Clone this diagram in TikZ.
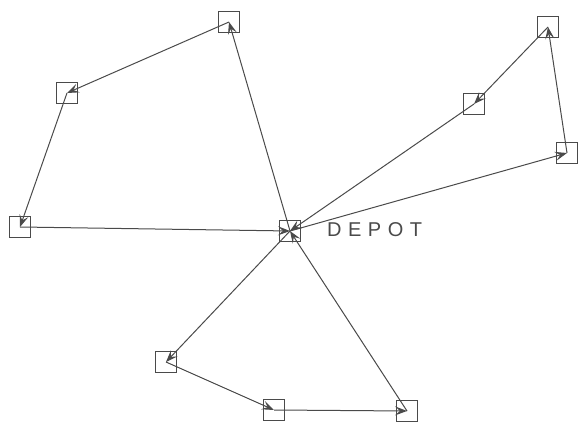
\documentclass[tikz,border=0pt]{standalone}
\usepackage{fontspec}
\setmainfont{Liberation Sans}
\usetikzlibrary{arrows.meta}
\definecolor{ink}{HTML}{4A4A4A}
\tikzset{
  stop/.style={draw=ink, line width=1pt, minimum size=21pt, inner sep=0pt},
  leg/.style={draw=ink, line width=1pt, -{Stealth[length=12pt,width=9pt,inset=5pt]}}
}
\begin{document}
\begin{tikzpicture}[x=1pt,y=1pt]
\useasboundingbox (0,0) rectangle (578,423);
\node[stop] (dep) at (290,192) {};
\node[stop] (a) at (229,401) {};
\node[stop] (b) at (67,330) {};
\node[stop] (c) at (20,196) {};
\node[stop] (d) at (474,319) {};
\node[stop] (e) at (548,396) {};
\node[stop] (f) at (567,270) {};
\node[stop] (g) at (166,61) {};
\node[stop] (h) at (274,13) {};
\node[stop] (i) at (407,12) {};
\node[anchor=west, text=ink, inner sep=0pt, font=\fontsize{20}{20}\selectfont] (lbl) at (327,193) {D\hspace{6.5pt}E\hspace{6.5pt}P\hspace{6.5pt}O\hspace{6.5pt}T};
\draw[leg] (dep.center) -- (a.center);
\draw[leg] (a.center) -- (b.center);
\draw[leg] (b.center) -- (c.center);
\draw[leg] (c.center) -- (dep.center);
\draw[leg] (dep.center) -- (f.center);
\draw[leg] (f.center) -- (e.center);
\draw[leg] (e.center) -- (d.center);
\draw[leg] (d.center) -- (dep.center);
\draw[leg] (dep.center) -- (g.center);
\draw[leg] (g.center) -- (h.center);
\draw[leg] (h.center) -- (i.center);
\draw[leg] (i.center) -- (dep.center);
\end{tikzpicture}
\end{document}
